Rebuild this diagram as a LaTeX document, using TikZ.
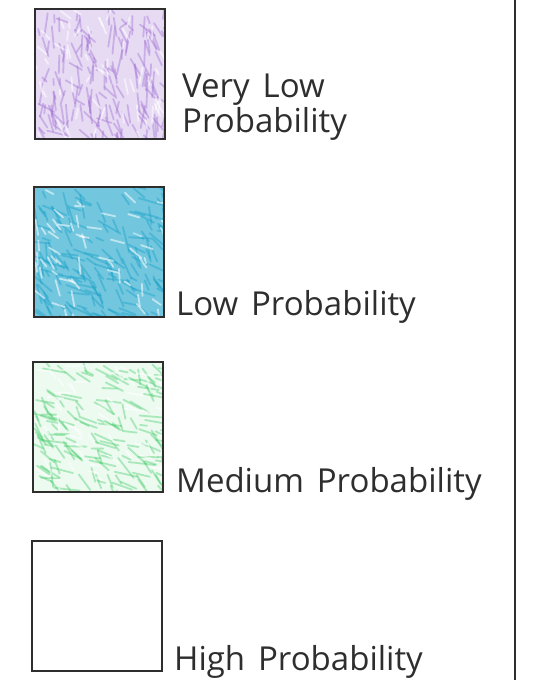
\documentclass[tikz,border=0pt]{standalone}
\usepackage{fontspec}
\setmainfont{Open Sans}[WordSpace=1.5]
\usetikzlibrary{positioning,calc,backgrounds}
\definecolor{lgVeryLow}{RGB}{160,110,210}
\definecolor{lgLow}{RGB}{20,160,200}
\definecolor{lgMedium}{RGB}{70,205,105}
\definecolor{lgInk}{HTML}{2E2E2E}
\tikzset{
    lgSwatch/.style={
        rectangle,
        draw=lgInk,
        line width=1.5pt,
        minimum width=130pt,
        minimum height=130pt,
        inner sep=0pt
    },
    lgLabel/.style={
        font=\fontsize{33}{35}\selectfont,
        text=lgInk,
        align=left,
        inner sep=0pt,
        anchor=base west
    },
    % crayon strokes
    lgStroke/.style={line width=1.8pt, line cap=round, opacity=0.4}
}
\begin{document}
\begin{tikzpicture}[x=1pt, y=-1pt]
    \useasboundingbox (0,0) rectangle (543,680);
    \pgfmathsetseed{7}

    % Swatches
    \node[lgSwatch] (vlow) at (100,74) {};
    \node[lgSwatch] (low) at (99,252) {};
    \node[lgSwatch] (med) at (98,427) {};
    \node[lgSwatch] (high) at (97,606) {};

    % Crayon fill
    \begin{scope}[on background layer]
        \fill[lgVeryLow!25] (vlow.north west) rectangle (vlow.south east);
        \fill[lgLow!60] (low.north west) rectangle (low.south east);
        \fill[lgMedium!10] (med.north west) rectangle (med.south east);
        \foreach \sw/\col/\ang in {vlow/lgVeryLow/75, low/lgLow/45, med/lgMedium/35} {
            \begin{scope}
                \clip (\sw.north west) rectangle (\sw.south east);
                \foreach \k in {1,...,170}
                    \draw[lgStroke, \col] ($(\sw.north west)+({rnd*135},{rnd*135})$) -- ++({\ang+rand*35}:{5+rnd*22});
                \foreach \k in {1,...,60}
                    \draw[lgStroke, white, opacity=0.55] ($(\sw.north west)+({rnd*135},{rnd*135})$) -- ++({\ang+rand*40}:{4+rnd*14});
            \end{scope}
        }
    \end{scope}

    % Labels
    \node[lgLabel] (vlowtxt) at (182,132) {Very Low\\Probability};
    \node[lgLabel] (lowtxt) at (176,315) {Low Probability};
    \node[lgLabel] (medtxt) at (176,492) {Medium Probability};
    \node[lgLabel] (hightxt) at (174,670) {High Probability};

    % Frame edge
    \coordinate (edgetop) at (515,0);
    \coordinate (edgebot) at (515,680);
    \draw[lgInk, line width=1.5pt] (edgetop) -- (edgebot);
\end{tikzpicture}
\end{document}
